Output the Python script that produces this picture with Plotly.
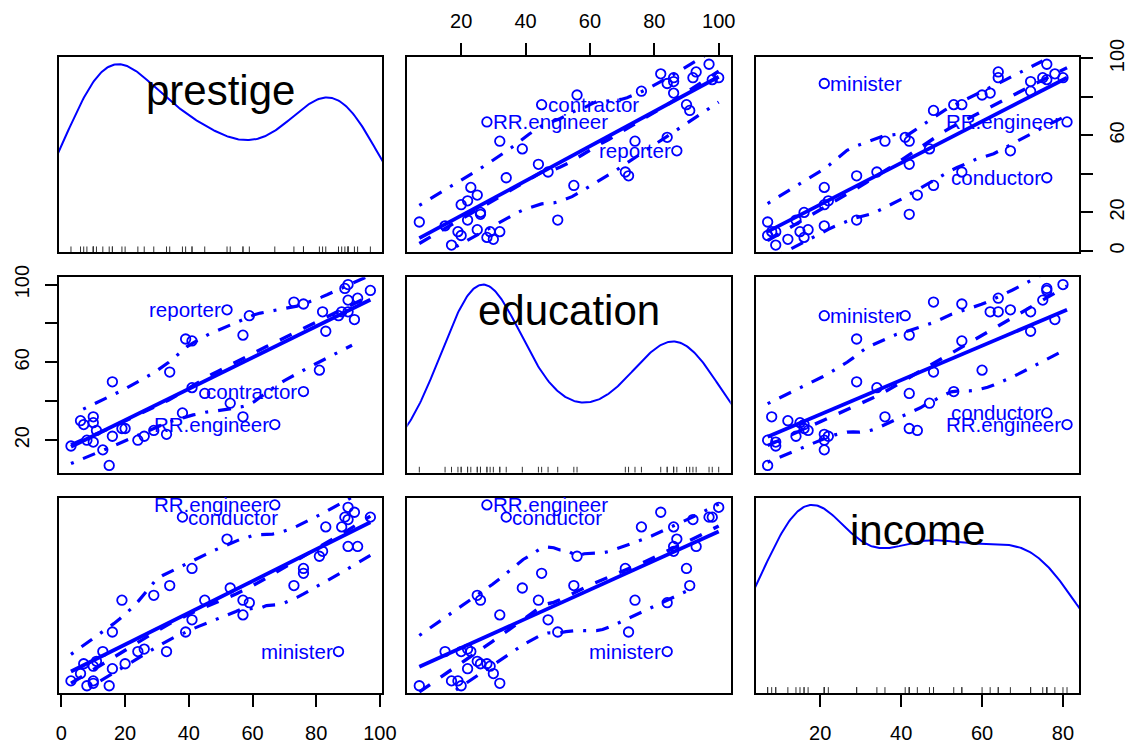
import numpy as np
import plotly.graph_objects as go
from plotly.subplots import make_subplots

# ---------------- data (Duncan occupational prestige) ----------------
occupation = ["accountant", "pilot", "architect", "author", "chemist", "minister",
              "professor", "dentist", "reporter", "engineer", "undertaker", "lawyer",
              "physician", "welfare.worker", "teacher", "conductor", "contractor",
              "factory.owner", "store.manager", "banker", "bookkeeper", "mail.carrier",
              "insurance.agent", "store.clerk", "carpenter", "electrician", "RR.engineer",
              "machinist", "auto.repairman", "plumber", "gas.stn.attendant", "coal.miner",
              "streetcar.motorman", "taxi.driver", "truck.driver", "machine.operator",
              "barber", "bartender", "shoe.shiner", "cook", "soda.clerk", "watchman",
              "janitor", "policeman", "waiter"]
income = [62, 72, 75, 55, 64, 21, 64, 80, 67, 72, 42, 76, 76, 41, 48, 76, 53, 60, 42, 78,
          29, 48, 55, 29, 21, 47, 81, 36, 22, 44, 15, 7, 42, 9, 21, 21, 16, 16, 9, 14,
          12, 17, 7, 34, 8]
education = [86, 76, 92, 90, 86, 84, 93, 100, 87, 86, 74, 98, 97, 84, 91, 34, 45, 56, 44,
             82, 72, 55, 71, 50, 23, 39, 28, 32, 22, 25, 29, 7, 26, 19, 15, 20, 26, 28,
             17, 22, 30, 25, 20, 47, 32]
prestige = [82, 83, 90, 76, 90, 87, 93, 90, 52, 88, 57, 89, 97, 59, 73, 38, 76, 81, 45,
            92, 39, 34, 41, 16, 33, 53, 67, 57, 26, 29, 10, 15, 19, 10, 13, 24, 20, 7, 3,
            16, 6, 11, 8, 41, 10]

var_names = ["prestige", "education", "income"]

# labelled points, per (row, col) panel
labels_r1c2 = ["contractor", "RR.engineer", "reporter"]
labels_r1c3 = ["minister", "RR.engineer", "conductor"]
labels_r2c1 = ["reporter", "contractor", "RR.engineer"]
labels_r2c3 = ["minister", "conductor", "RR.engineer"]
labels_r3c1 = ["RR.engineer", "conductor", "minister"]
labels_r3c2 = ["RR.engineer", "conductor", "minister"]

# axis ticks
ticks_prestige_bottom = [0, 20, 40, 60, 80, 100]
ticks_education_top = [20, 40, 60, 80, 100]
ticks_income_bottom = [20, 40, 60, 80]
ticks_prestige_right = [0, 20, 40, 60, 80, 100]
ticktext_prestige_right = ["0", "20", "", "60", "", "100"]
ticks_education_left = [20, 40, 60, 80, 100]
ticktext_education_left = ["20", "", "60", "", "100"]
ticks_income_right = [20, 40, 60, 80]

# ---------------- helpers ----------------
data = {"prestige": np.array(prestige, float),
        "education": np.array(education, float),
        "income": np.array(income, float)}
panel_labels = {(1, 2): labels_r1c2, (1, 3): labels_r1c3, (2, 1): labels_r2c1,
                (2, 3): labels_r2c3, (3, 1): labels_r3c1, (3, 2): labels_r3c2}


def prange(v):
    lo, hi = v.min(), v.max()
    d = (hi - lo) * 0.04
    return [lo - d, hi + d]


def local_fit(x, y, rob, x0, q, degree):
    d = np.abs(x - x0)
    rho = np.sort(d)[q - 1]
    if rho <= 0:
        rho = 1e-9
    u = d / rho
    w = np.where(u < 1, (1 - u ** 3) ** 3, 0.0) * rob
    sw = w.sum()
    if sw <= 0:
        return np.nan
    mx = (w * x).sum() / sw
    my = (w * y).sum() / sw
    if degree == 0:
        return my
    sxx = (w * (x - mx) ** 2).sum()
    if sxx <= 1e-12:
        return my
    b = (w * (x - mx) * (y - my)).sum() / sxx
    return my + b * (x0 - mx)


def loess(x, y, x_eval, span=2 / 3, degree=1, iterations=4):
    n = len(x)
    q = max(int(np.floor(n * span)), 1)
    rob = np.ones(n)
    res = np.zeros(n)
    for it in range(iterations):
        fit = np.array([local_fit(x, y, rob, xi, q, degree) for xi in x])
        res = y - fit
        if it < iterations - 1:
            cmad = 6 * np.median(np.abs(res))
            if cmad <= 0:
                break
            r = np.abs(res)
            rob = np.where(r <= 0.001 * cmad, 1.0,
                           np.where(r > 0.999 * cmad, 0.0, (1 - (r / cmad) ** 2) ** 2))
    ev = np.array([local_fit(x, y, rob, xe, q, degree) for xe in x_eval])
    return ev, res


def smooth_and_spread(x, y):
    xe = np.linspace(x.min(), x.max(), 50)
    ye, res = loess(x, y, xe)
    out = []
    for sign, mask in ((1, res > 0), (-1, res <= 0)):
        xs, r2 = x[mask], res[mask] ** 2
        pr, _ = loess(xs, r2, xe, degree=0, iterations=1)
        pr = np.where((xe >= xs.min()) & (xe <= xs.max()), pr, np.nan)
        out.append(ye + sign * np.sqrt(np.clip(pr, 0, None)))
    return xe, ye, out[0], out[1]


def dnorm(z):
    return np.exp(-0.5 * z ** 2) / np.sqrt(2 * np.pi)


def bw_nrd0(x):
    s = np.std(x, ddof=1)
    q75, q25 = np.percentile(x, [75, 25])
    return 0.9 * min(s, (q75 - q25) / 1.34) * len(x) ** -0.2


def adaptive_kernel(x, n=500, cut=3):
    bw = bw_nrd0(x)
    x0 = np.linspace(x.min() - cut * bw, x.max() + cut * bw, n)
    p = dnorm((x0[:, None] - x[None, :]) / bw).sum(1) / (len(x) * bw)
    f = np.interp(x, x0, p)
    g = np.exp(np.mean(np.log(f)))
    h = bw * (f / g) ** -0.5
    p2 = (dnorm((x0[:, None] - x[None, :]) / h[None, :]) / h[None, :]).sum(1) / len(x)
    return x0, p2


def nan_to_none(a):
    return [None if not np.isfinite(v) else float(v) for v in a]


# ---------------- figure ----------------
BLUE = "#0000FF"
FONT = "Liberation Sans, Arial, Helvetica, sans-serif"

fig = make_subplots(rows=3, cols=3, horizontal_spacing=25 / 1020, vertical_spacing=25 / 636)
annotations = []

for r in range(1, 4):
    for c in range(1, 4):
        idx = (r - 1) * 3 + c
        xref = "x" if idx == 1 else f"x{idx}"
        yref = "y" if idx == 1 else f"y{idx}"
        xv = data[var_names[c - 1]]
        xr = prange(xv)
        if r == c:
            dx, dy = adaptive_kernel(xv)
            dmin, dmax = dy.min(), dy.max()
            yr = [dmin - 0.04 * (dmax - dmin), dmax + 0.04 * (dmax - dmin)]
            fig.add_trace(go.Scatter(x=dx, y=dy, mode="lines",
                                     line=dict(color=BLUE, width=2), hoverinfo="skip",
                                     showlegend=False, cliponaxis=True), row=r, col=c)
            rug_x, rug_y = [], []
            tl = 0.03 * (yr[1] - yr[0])
            for v in xv:
                rug_x += [v, v, None]
                rug_y += [yr[0], yr[0] + tl, None]
            fig.add_trace(go.Scatter(x=rug_x, y=rug_y, mode="lines",
                                     line=dict(color="#333333", width=1), hoverinfo="skip",
                                     showlegend=False), row=r, col=c)
            annotations.append(dict(text=var_names[c - 1], xref=f"{xref} domain",
                                    yref=f"{yref} domain", x=0.5, y=1, yanchor="middle",
                                    xanchor="center", yshift=-33, showarrow=False,
                                    font=dict(size=42, color="black", family=FONT)))
        else:
            yv = data[var_names[r - 1]]
            yr = prange(yv)
            fig.add_trace(go.Scatter(x=xv, y=yv, mode="markers",
                                     marker=dict(symbol="circle-open", size=9.5, color=BLUE,
                                                 line=dict(width=1.8, color=BLUE)),
                                     text=occupation, hoverinfo="text",
                                     showlegend=False), row=r, col=c)
            # least-squares line over the data range
            b, a = np.polyfit(xv, yv, 1)
            lx = np.array([xv.min(), xv.max()])
            fig.add_trace(go.Scatter(x=lx, y=a + b * lx, mode="lines",
                                     line=dict(color=BLUE, width=3.8), hoverinfo="skip",
                                     showlegend=False), row=r, col=c)
            xe, ye, up, lo = smooth_and_spread(xv, yv)
            fig.add_trace(go.Scatter(x=xe, y=ye, mode="lines",
                                     line=dict(color=BLUE, width=3.4, dash="13px,13px"),
                                     hoverinfo="skip", showlegend=False), row=r, col=c)
            for s in (up, lo):
                fig.add_trace(go.Scatter(x=xe, y=nan_to_none(s), mode="lines",
                                         line=dict(color=BLUE, width=3.2,
                                                   dash="3px,10px,13px,10px"),
                                         hoverinfo="skip", showlegend=False,
                                         connectgaps=False), row=r, col=c)
            mid = 0.5 * (xr[0] + xr[1])
            for name in panel_labels[(r, c)]:
                k = occupation.index(name)
                left = xv[k] > mid
                annotations.append(dict(text=name, xref=xref, yref=yref,
                                        x=float(xv[k]), y=float(yv[k]),
                                        xanchor="right" if left else "left",
                                        yanchor="middle", xshift=-4 if left else 4,
                                        showarrow=False,
                                        font=dict(size=20.5, color=BLUE, family=FONT)))
        base = dict(range=xr, showline=True, linecolor="black", linewidth=2, mirror=True,
                    showgrid=False, zeroline=False, ticks="", showticklabels=False,
                    automargin=False, fixedrange=True)
        fig.update_xaxes(**base, row=r, col=c)
        basey = dict(base)
        basey["range"] = yr
        fig.update_yaxes(**basey, row=r, col=c)

tick_style = dict(ticks="outside", ticklen=12, tickwidth=2, tickcolor="black",
                  showticklabels=True, tickfont=dict(size=20, color="black", family=FONT))

fig.update_xaxes(row=1, col=2, side="top", tickvals=ticks_education_top,
                 ticklabelstandoff=7, **tick_style)
fig.update_xaxes(row=3, col=1, tickvals=ticks_prestige_bottom,
                 ticklabelstandoff=9, **tick_style)
fig.update_xaxes(row=3, col=3, tickvals=ticks_income_bottom,
                 ticklabelstandoff=9, **tick_style)
fig.update_yaxes(row=1, col=3, side="right", tickvals=ticks_prestige_right,
                 ticktext=ticktext_prestige_right, tickangle=-90,
                 ticklabelstandoff=7, **tick_style)
fig.update_yaxes(row=2, col=1, tickvals=ticks_education_left,
                 ticktext=ticktext_education_left, tickangle=-90,
                 ticklabelstandoff=8, **tick_style)
fig.update_yaxes(row=3, col=3, side="right", tickvals=ticks_income_right, tickangle=-90,
                 ticklabelstandoff=7, **tick_style)

fig.update_layout(width=1129, height=745, margin=dict(l=59, r=50, t=57, b=52),
                  paper_bgcolor="white", plot_bgcolor="white",
                  font=dict(family=FONT, color="black"), annotations=annotations,
                  showlegend=False)

fig.write_html("out.html")
